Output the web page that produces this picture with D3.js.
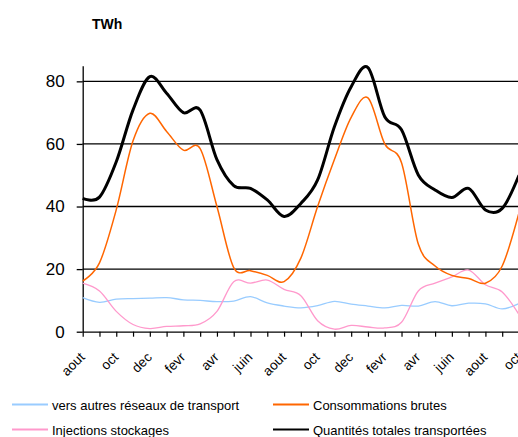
<!DOCTYPE html>
<html>
<head>
<meta charset="utf-8">
<script src="https://cdn.jsdelivr.net/npm/d3@7"></script>
<style>
  body { margin: 0; background: #fff; }
  svg { display: block; font-family: "Liberation Sans", Arial, sans-serif; }
</style>
</head>
<body>
<div id="chart"></div>
<script>
// ------------ data (TWh per month, aout -> oct, 27 months)
var months = ["aout", "sept", "oct", "nov", "dec", "janv", "fevr", "mars", "avr", "mai", "juin", "juil",
              "aout", "sept", "oct", "nov", "dec", "janv", "fevr", "mars", "avr", "mai", "juin", "juil",
              "aout", "sept", "oct"];

var autresReseaux = [10.9, 9.4, 10.4, 10.6, 10.7, 10.9, 10.2, 10.0, 9.6, 9.8, 11.2, 9.2, 8.2, 7.6,
                     8.3, 9.7, 8.8, 8.2, 7.6, 8.4, 8.2, 9.6, 8.3, 9.1, 8.9, 7.3, 9.0];
var injections = [15.5, 13.0, 6.5, 2.3, 1.0, 1.7, 1.9, 2.5, 6.5, 16.0, 15.5, 16.5, 13.5, 11.5,
                  3.5, 0.8, 2.0, 1.5, 1.2, 3.0, 13.0, 15.5, 17.5, 19.7, 15.0, 12.7, 5.5];
var consommations = [16.2, 22.0, 39.0, 61.0, 69.8, 64.0, 58.0, 58.5, 40.0, 20.5, 19.5, 18.0, 16.0, 23.5,
                     40.0, 55.0, 68.5, 74.7, 60.0, 54.0, 28.0, 21.0, 18.0, 17.0, 15.5, 21.0, 38.0];
var totales = [42.6, 43.0, 54.3, 70.9, 81.5, 76.2, 70.0, 70.8, 55.0, 46.7, 45.8, 42.1, 36.8, 41.0,
               48.5, 65.5, 78.3, 84.4, 68.7, 64.5, 50.1, 45.3, 42.9, 45.8, 38.9, 39.4, 50.0];

var yTicks = [0, 20, 40, 60, 80];

var series = [
  { name: "vers autres réseaux de transport", values: autresReseaux, color: "#99ccff", width: 1.3 },
  { name: "Injections stockages", values: injections, color: "#ff99cc", width: 1.3 },
  { name: "Consommations brutes", values: consommations, color: "#ff6600", width: 1.5 },
  { name: "Quantités totales transportées", values: totales, color: "#000000", width: 3 }
];

// ------------ svg
var svgWidth = 518, svgHeight = 437;
var svg = d3.select("#chart").append("svg")
  .attr("width", svgWidth)
  .attr("height", svgHeight);

var plotLeft = 82.7, plotBottom = 331.7, plotTop = 65.7;
var step = 16.78;

var xScale = d3.scaleLinear()
  .domain([0, months.length - 1])
  .range([plotLeft, plotLeft + step * (months.length - 1)]);

var yScale = d3.scaleLinear()
  .domain([0, 85])
  .range([plotBottom, plotTop]);

// unit label
svg.append("text")
  .attr("x", 92)
  .attr("y", 29)
  .style("font-size", "14px")
  .style("font-weight", "bold")
  .text("TWh");

// gridlines
svg.append("g").selectAll("line")
  .data(yTicks.filter(d => d > 0))
  .enter()
  .append("line")
  .attr("x1", plotLeft)
  .attr("x2", svgWidth)
  .attr("y1", d => yScale(d))
  .attr("y2", d => yScale(d))
  .attr("stroke", "#000")
  .attr("stroke-width", 1.3);

// y axis
var yAxis = svg.append("g")
  .attr("transform", `translate(${plotLeft},0)`)
  .call(d3.axisLeft(yScale).tickValues(yTicks).tickSize(6).tickPadding(12).tickSizeOuter(0));
yAxis.select(".domain").attr("stroke", "#000").attr("stroke-width", 1.3);
yAxis.selectAll("line").attr("stroke-width", 1.3);
yAxis.selectAll("text")
  .style("font-size", "17px")
  .style("font-family", "'Liberation Sans', Arial, sans-serif")
  .attr("fill", "#000");

// x axis
var xAxis = svg.append("g")
  .attr("transform", `translate(0,${plotBottom})`)
  .call(d3.axisBottom(xScale)
    .tickValues(d3.range(months.length))
    .tickFormat(i => i % 2 === 0 ? months[i] : "")
    .tickSize(5)
    .tickSizeOuter(0));
xAxis.select(".domain").attr("stroke", "#000").attr("stroke-width", 1.3);
xAxis.selectAll("line").attr("stroke-width", 1.2);
xAxis.selectAll("text")
  .style("font-size", "13.5px")
  .style("font-family", "'Liberation Sans', Arial, sans-serif")
  .attr("fill", "#000")
  .attr("text-anchor", "end")
  .attr("x", 0)
  .attr("y", 0)
  .attr("dy", "0.35em")
  .attr("transform", "translate(-1,23) rotate(-45)");

// lines
var line = d3.line()
  .x((d, i) => xScale(i))
  .y(d => yScale(d))
  .curve(d3.curveCardinal.tension(0));

svg.append("g").selectAll("path")
  .data(series)
  .enter()
  .append("path")
  .attr("d", d => line(d.values))
  .attr("fill", "none")
  .attr("stroke", d => d.color)
  .attr("stroke-width", d => d.width)
  .attr("stroke-linejoin", "round");

// legend
var legendPos = [[12, 405], [12, 430], [273, 405], [273, 430]];
var legend = svg.append("g").selectAll("g")
  .data(series)
  .enter()
  .append("g")
  .attr("transform", (d, i) => `translate(${legendPos[i][0]},${legendPos[i][1]})`);

legend.append("line")
  .attr("x1", 0).attr("x2", 36)
  .attr("y1", -0.5).attr("y2", -0.5)
  .attr("stroke", d => d.color)
  .attr("stroke-width", 1.8);

legend.append("text")
  .attr("x", 40)
  .attr("y", 5)
  .style("font-size", "13px")
  .text(d => d.name);
</script>
</body>
</html>
